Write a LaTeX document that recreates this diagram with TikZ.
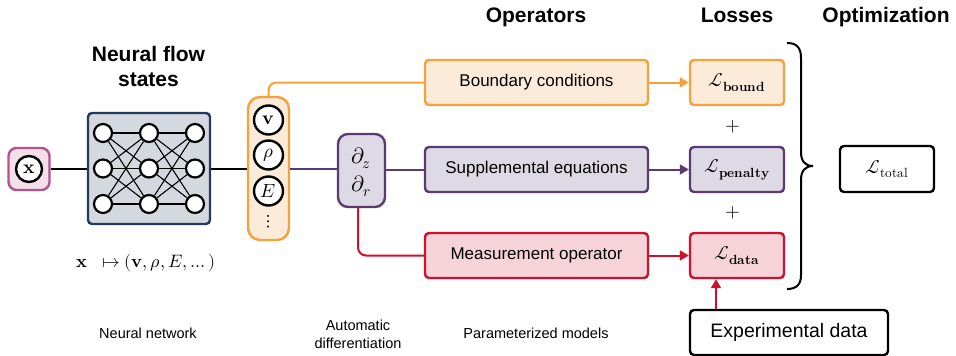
\documentclass[tikz,border=0pt]{standalone}
\usepackage{fontspec}
\usepackage{unicode-math}
\setmainfont{Liberation Sans}
\setmathfont{Latin Modern Math}
\usetikzlibrary{arrows.meta,calc}

\definecolor{orgE}{HTML}{F5A23D}
\definecolor{orgF}{HTML}{FDEBDA}
\definecolor{purE}{HTML}{5B3A70}
\definecolor{purF}{HTML}{DEDAE5}
\definecolor{redE}{HTML}{D0112B}
\definecolor{redF}{HTML}{F5D3D9}
\definecolor{pnkE}{HTML}{B5528C}
\definecolor{pnkF}{HTML}{F2DFE8}
\definecolor{nnE}{HTML}{27395A}
\definecolor{nnF}{HTML}{D4D9E0}

\begin{document}
\begin{tikzpicture}[x=1pt,y=-1pt,
  box/.style={draw, line width=2.4pt, rounded corners=4pt, inner sep=0pt, align=center},
  opbox/.style={box, minimum width=223pt, minimum height=45pt,
    font=\fontsize{17}{20}\selectfont},
  lossbox/.style={box, minimum width=94pt, minimum height=45pt,
    font=\fontsize{19}{21}\selectfont},
  neuron/.style={circle, draw, line width=2.2pt, fill=white, minimum size=18pt, inner sep=0pt},
  varnode/.style={circle, draw, line width=2.4pt, fill=white, minimum size=29pt,
    inner sep=0pt, font=\fontsize{19}{20}\selectfont},
  link/.style={line width=2pt},
  arr/.style={link, -{Triangle[length=9pt,width=10pt]}},
  heading/.style={font=\fontsize{21}{25}\selectfont\bfseries, align=center},
  caption/.style={font=\fontsize{14.5}{18}\selectfont, align=center},
  plus/.style={font=\fontsize{19}{20}\selectfont}
]
\useasboundingbox (0,0) rectangle (956,356);

% headings
\node[heading] (hnn) at (148.5,66) {Neural flow\\states};
\node[heading, anchor=base] (hop) at (536,23) {Operators};
\node[heading, anchor=base] (hlo) at (737,23) {Losses};
\node[heading, anchor=base] (hopt) at (886,23) {Optimization};

% input
\node[draw=pnkE, fill=pnkF, line width=2.4pt, rounded corners=8pt,
  minimum width=41pt, minimum height=42pt] (xbox) at (29,169) {};
\node[varnode, minimum size=26pt] (xin) at (xbox.center) {$\symbf{x}$};

% neural network
\node[draw=nnE, fill=nnF, line width=2.4pt, rounded corners=4pt,
  minimum width=122pt, minimum height=111pt] (nn) at (149,168.5) {};
\foreach \c/\x in {1/103,2/149,3/195}
  \foreach \r/\y in {1/133,2/168.5,3/204}
    \node[neuron] (n-\c-\r) at (\x,\y) {};
\foreach \i in {1,2,3}
  \foreach \j in {1,2,3} {
    \draw[line width=1.1pt] (n-1-\i) -- (n-2-\j);
    \draw[line width=1.1pt] (n-2-\i) -- (n-3-\j);
  }
\node[font=\fontsize{18}{20}\selectfont] (map) at (146,263)
  {$\symbf{x}\;\;\mapsto(\symbf{v},\rho,E,\dots)$};

% network outputs
\node[draw=orgE, fill=orgF, line width=2.4pt, rounded corners=12pt,
  minimum width=41pt, minimum height=143pt] (col) at (268.5,168.5) {};
\node[varnode] (vv) at (268.5,120) {$\symbf{v}$};
\node[varnode] (rho) at (268.5,155) {$\rho$};
\node[varnode] (ee) at (268.5,191) {$E$};
\node[font=\fontsize{19}{20}\selectfont, inner sep=0pt] (vd) at (268.5,222) {$\vdots$};

% derivatives
\node[box, draw=purE, fill=purF, rounded corners=10pt, minimum width=47pt,
  minimum height=73pt] (dz) at (361.5,170.5) {};
\node[font=\fontsize{22}{24}\selectfont, inner sep=0pt] (pz) at (361,158) {$\partial_z$};
\node[font=\fontsize{22}{24}\selectfont, inner sep=0pt] (pr) at (361,186) {$\partial_r$};

% operators
\node[opbox, draw=orgE, fill=orgF] (bc) at (536.5,82.5) {Boundary conditions};
\node[opbox, draw=purE, fill=purF] (sup) at (536.5,169.5) {Supplemental equations};
\node[opbox, draw=redE, fill=redF] (meas) at (536.5,255.5) {Measurement operator};

% losses
\node[lossbox, draw=orgE, fill=orgF] (lb) at (737,82.5) {$\mathcal{L}_{\symbf{bound}}$};
\node[lossbox, draw=purE, fill=purF] (lp) at (737,169.5) {$\mathcal{L}_{\symbf{penalty}}$};
\node[lossbox, draw=redE, fill=redF] (ld) at (737,255.5) {$\mathcal{L}_{\symbf{data}}$};
\node[plus] (p1) at (733,127) {$+$};
\node[plus] (p2) at (733,213) {$+$};

% total loss
\node[box, draw=black, minimum width=94pt, minimum height=46pt,
  font=\fontsize{19}{21}\selectfont] (tot) at (887,169) {$\mathcal{L}_{\symup{total}}$};

% experimental data
\node[box, draw=black, minimum width=198pt, minimum height=45pt,
  font=\fontsize{19.5}{22}\selectfont] (exp) at (789,332.5) {Experimental data};

% brace grouping the losses
\draw[line width=2pt] (787,43) .. controls (797,43) and (801,48) .. (801,58)
  -- (801,152) .. controls (801,161) and (805,166) .. (813,166)
  .. controls (805,166) and (801,171) .. (801,180)
  -- (801,275) .. controls (801,284) and (797,289) .. (787,289);

% connectors
\draw[link] (xbox.east) -- (xbox.east -| nn.west);
\draw[link] (nn.east) -- (nn.east -| col.west);
\draw[link, orgE, rounded corners=8pt] (col.north) |- (bc.west);
\draw[link, purE] (col.east) -- (col.east -| dz.west);
\draw[link, purE] (sup.west -| dz.east) -- (sup.west);
\draw[link, redE, rounded corners=8pt] ([xshift=-3.5pt]dz.south) |- (meas.west);
\draw[arr, orgE] (bc.east) -- (lb.west);
\draw[arr, purE] (sup.east) -- (lp.west);
\draw[arr, redE] (meas.east) -- (ld.west);
\draw[arr, redE] ([xshift=-73pt]exp.north) -- ([xshift=-21pt]ld.south);

% captions
\node[caption] (c1) at (148,333) {Neural network};
\node[caption] (c2) at (358,334) {Automatic\\differentiation};
\node[caption] (c3) at (536,333) {Parameterized models};
\end{tikzpicture}
\end{document}
